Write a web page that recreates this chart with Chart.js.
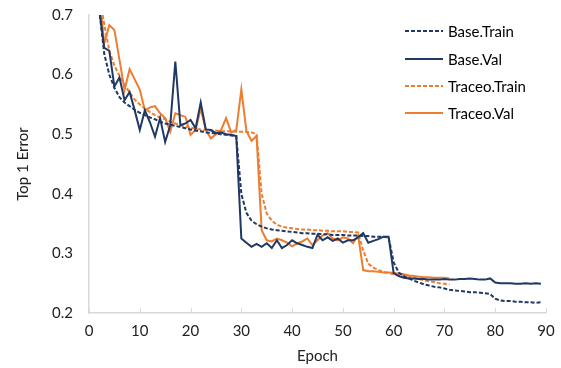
<!DOCTYPE html>
<html lang="en">
<head>
<meta charset="UTF-8">
<title>Top 1 Error per Epoch</title>
<script src="https://cdn.jsdelivr.net/npm/chart.js"></script>
<style>
    html, body { margin: 0; padding: 0; background: #fff; }
    .chart-box { width: 561px; height: 368px; }
</style>
</head>
<body>
<div class="chart-box"><canvas id="errChart"></canvas></div>
<script>
// values, one per epoch starting at epoch 1
const baseTrain = [0.82, 0.71, 0.635, 0.60, 0.578, 0.562, 0.553, 0.547, 0.541, 0.536,
    0.532, 0.528, 0.525, 0.521, 0.518, 0.516, 0.514, 0.512, 0.51, 0.508,
    0.506, 0.505, 0.503, 0.502, 0.501, 0.50, 0.499, 0.498, 0.497, 0.40,
    0.368, 0.355, 0.349, 0.345, 0.342, 0.340, 0.339, 0.338, 0.337, 0.336,
    0.335, 0.334, 0.334, 0.333, 0.333, 0.332, 0.332, 0.331, 0.331, 0.331,
    0.330, 0.330, 0.330, 0.329, 0.329, 0.328, 0.328, 0.328, 0.327, 0.285,
    0.268, 0.262, 0.258, 0.254, 0.251, 0.248, 0.246, 0.244, 0.243, 0.241,
    0.239, 0.238, 0.237, 0.236, 0.235, 0.235, 0.234, 0.233, 0.232, 0.224,
    0.221, 0.22, 0.22, 0.219, 0.219, 0.218, 0.218, 0.217, 0.218];

const baseVal = [0.80, 0.71, 0.645, 0.64, 0.58, 0.595, 0.557, 0.571, 0.54, 0.507,
    0.54, 0.52, 0.496, 0.527, 0.487, 0.515, 0.622, 0.515, 0.518, 0.524,
    0.51, 0.553, 0.508, 0.507, 0.502, 0.503, 0.50, 0.499, 0.497, 0.325,
    0.318, 0.311, 0.316, 0.311, 0.317, 0.309, 0.322, 0.309, 0.314, 0.322,
    0.317, 0.314, 0.311, 0.309, 0.331, 0.322, 0.327, 0.321, 0.325, 0.318,
    0.322, 0.322, 0.327, 0.334, 0.318, 0.321, 0.324, 0.328, 0.328, 0.267,
    0.262, 0.259, 0.258, 0.258, 0.257, 0.257, 0.256, 0.256, 0.256, 0.257,
    0.256, 0.256, 0.257, 0.257, 0.258, 0.257, 0.256, 0.256, 0.258, 0.251,
    0.25, 0.25, 0.25, 0.249, 0.249, 0.25, 0.249, 0.25, 0.249];

const traceoTrain = [0.85, 0.73, 0.685, 0.64, 0.615, 0.598, 0.583, 0.57, 0.558, 0.55,
    0.543, 0.537, 0.532, 0.528, 0.525, 0.521, 0.518, 0.515, 0.513, 0.511,
    0.509, 0.508, 0.507, 0.506, 0.506, 0.505, 0.505, 0.505, 0.504, 0.504,
    0.504, 0.503, 0.50, 0.40, 0.367, 0.355, 0.348, 0.345, 0.343, 0.342,
    0.341, 0.340, 0.340, 0.339, 0.339, 0.338, 0.338, 0.337, 0.337, 0.337,
    0.336, 0.336, 0.335, 0.305, 0.283, 0.276, 0.272, 0.269, 0.267, 0.265,
    0.264, 0.262, 0.261, 0.259, 0.257, 0.255, 0.253, 0.252, 0.25, 0.249,
    0.248];

const traceoVal = [0.85, 0.74, 0.652, 0.683, 0.675, 0.625, 0.574, 0.609, 0.592, 0.575,
    0.54, 0.545, 0.547, 0.535, 0.527, 0.504, 0.535, 0.532, 0.529, 0.499,
    0.507, 0.543, 0.507, 0.493, 0.50, 0.507, 0.527, 0.503, 0.507, 0.575,
    0.505, 0.489, 0.497, 0.339, 0.322, 0.32, 0.325, 0.322, 0.318, 0.312,
    0.317, 0.32, 0.325, 0.314, 0.322, 0.33, 0.334, 0.325, 0.322, 0.327,
    0.325, 0.317, 0.33, 0.272, 0.27, 0.27, 0.269, 0.268, 0.268, 0.267,
    0.266, 0.265, 0.263, 0.262, 0.261, 0.26, 0.26, 0.259, 0.259, 0.259,
    0.258];

const seriesNames = ['Base.Train', 'Base.Val', 'Traceo.Train', 'Traceo.Val'];
const xTicks = [0, 10, 20, 30, 40, 50, 60, 70, 80, 90];
const yTicks = [0.2, 0.3, 0.4, 0.5, 0.6, 0.7];

const NAVY = '#1f3864';
const ORANGE = '#ed7d31';
const FONT = 'Lato, "Open Sans", sans-serif';

// epoch n -> value, epochs counted from 1
function toPoints(values) {
    return values.map((v, i) => ({ x: i + 1, y: v }));
}

// legend drawn inside the plot, top right, like the original
const insideLegend = {
    id: 'insideLegend',
    afterDraw(chart) {
        const ctx = chart.ctx;
        const x0 = 405, x1 = 443, rowY = [31, 59, 86, 113];
        ctx.save();
        chart.data.datasets.forEach((ds, i) => {
            ctx.beginPath();
            ctx.setLineDash(ds.borderDash || []);
            ctx.strokeStyle = ds.borderColor;
            ctx.lineWidth = ds.borderWidth;
            ctx.moveTo(x0, rowY[i]);
            ctx.lineTo(x1, rowY[i]);
            ctx.stroke();
            ctx.setLineDash([]);
            ctx.fillStyle = '#000';
            ctx.font = '15px ' + FONT;
            ctx.textBaseline = 'middle';
            ctx.fillText(ds.label, x1 + 5, rowY[i] + 1);
        });
        ctx.restore();
    }
};

// small inside tick marks on the x axis
const insideTicks = {
    id: 'insideTicks',
    afterDraw(chart) {
        const ctx = chart.ctx;
        const xs = chart.scales.x;
        const bottom = chart.chartArea.bottom;
        ctx.save();
        ctx.strokeStyle = '#d9d9d9';
        ctx.lineWidth = 1;
        xTicks.forEach(t => {
            const px = Math.round(xs.getPixelForValue(t)) + 0.5;
            ctx.beginPath();
            ctx.moveTo(px, bottom);
            ctx.lineTo(px, bottom - 5);
            ctx.stroke();
        });
        ctx.restore();
    }
};

const ctx = document.getElementById('errChart').getContext('2d');
new Chart(ctx, {
    type: 'line',
    data: {
        datasets: [
            { label: seriesNames[0], data: toPoints(baseTrain), borderColor: NAVY, borderDash: [4, 2], borderWidth: 2 },
            { label: seriesNames[1], data: toPoints(baseVal), borderColor: NAVY, borderWidth: 2 },
            { label: seriesNames[2], data: toPoints(traceoTrain), borderColor: ORANGE, borderDash: [4, 2], borderWidth: 2 },
            { label: seriesNames[3], data: toPoints(traceoVal), borderColor: ORANGE, borderWidth: 2 }
        ]
    },
    options: {
        responsive: true,
        maintainAspectRatio: false,
        animation: false,
        elements: {
            point: { radius: 0 },
            line: { tension: 0, fill: false }
        },
        layout: { padding: { top: 15, right: 15, left: 10, bottom: 0 } },
        plugins: {
            legend: { display: false },
            tooltip: { enabled: false }
        },
        scales: {
            x: {
                type: 'linear',
                min: 0,
                max: 90,
                afterBuildTicks: axis => { axis.ticks = xTicks.map(v => ({ value: v })); },
                afterFit: axis => { axis.height = 55; axis.paddingLeft = 0; axis.paddingRight = 0; },
                grid: { display: false, drawTicks: false },
                border: { color: '#d9d9d9', width: 1.5 },
                ticks: { color: '#222', font: { family: FONT, size: 15 }, padding: 9, maxRotation: 0 },
                title: { display: true, text: 'Epoch', color: '#222', font: { family: FONT, size: 15 }, padding: { top: 1, bottom: 3 } }
            },
            y: {
                min: 0.2,
                max: 0.7,
                afterBuildTicks: axis => { axis.ticks = yTicks.map(v => ({ value: v })); },
                afterFit: axis => { axis.width = 79; axis.paddingTop = 0; axis.paddingBottom = 0; },
                grid: { display: false, drawTicks: false },
                border: { color: '#d9d9d9', width: 1.5 },
                ticks: { color: '#222', font: { family: FONT, size: 15 }, padding: 16, callback: v => v.toFixed(1) },
                title: { display: true, text: 'Top 1 Error', color: '#222', font: { family: FONT, size: 15 }, padding: { top: 4, bottom: 6 } }
            }
        }
    },
    plugins: [insideLegend, insideTicks]
});
</script>
</body>
</html>
